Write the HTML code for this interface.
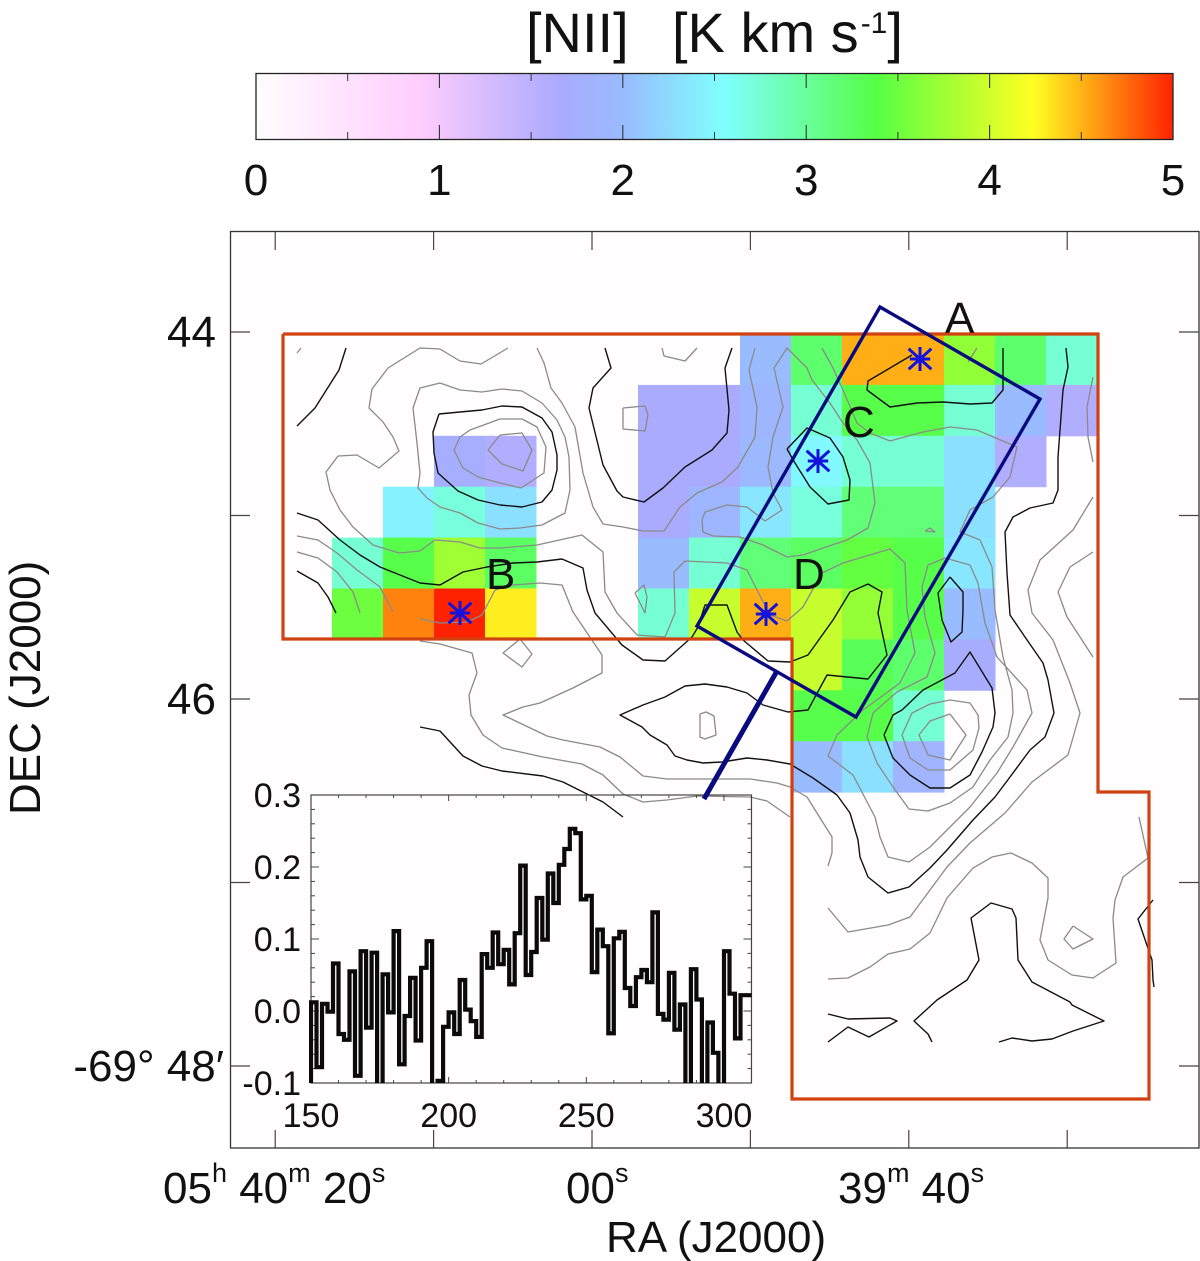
<!DOCTYPE html>
<html lang="en">
<head>
<meta charset="utf-8">
<title>[NII] integrated intensity map</title>
<style>
html,body{margin:0;padding:0;background:#fff;}
svg{display:block;font-family:"Liberation Sans",sans-serif;fill:#111;}
</style>
</head>
<body>
<svg id="chart" xmlns="http://www.w3.org/2000/svg" width="1200" height="1261" viewBox="0 0 1200 1261">
  <defs>
    <linearGradient id="cbar-gradient" x1="0" x2="1" y1="0" y2="0"></linearGradient>
    <clipPath id="inset-clip"><rect x="309" y="795" width="442.5" height="288"></rect></clipPath>
  </defs>
  <rect x="231" y="232" width="968" height="916" fill="#fffdfd"></rect>
  <g id="heatmap"></g>
  <g id="inset-bg"></g>
  <g id="contours" fill="none" stroke-linejoin="round"></g>
  <g id="frame"></g>
  <polyline points="283,334 1098,334 1098,792 1149,792 1149,1099 792,1099 792,639 283,639 283,334" fill="none" stroke="#d0420f" stroke-width="3.2"></polyline>
  <g id="inset"></g>
  <polygon points="880,307 1040,399 856,717 697,626" fill="none" stroke="#0a0a80" stroke-width="3.4"></polygon>
  <line x1="777" y1="671" x2="704" y2="799" stroke="#0a0a80" stroke-width="5"></line>
  <g id="markers"></g>
  <g font-size="44">
    <text x="945" y="333">A</text>
    <text x="486" y="589">B</text>
    <text x="843" y="437">C</text>
    <text x="793" y="589">D</text>
  </g>
  <g id="colorbar"></g>
  <g font-size="56">
    <text x="526" y="52">[NII]</text>
    <text x="672" y="52">[K km s<tspan font-size="30" dy="-19" dx="2">-1</tspan><tspan dy="19">]</tspan></text>
  </g>
  <g font-size="44">
    <text x="163" y="1203">05<tspan font-size="27" dy="-21">h</tspan><tspan dy="21"> 40</tspan><tspan font-size="27" dy="-21">m</tspan><tspan dy="21"> 20</tspan><tspan font-size="27" dy="-21">s</tspan></text>
    <text x="566" y="1203">00<tspan font-size="27" dy="-21">s</tspan></text>
    <text x="838" y="1203">39<tspan font-size="27" dy="-21">m</tspan><tspan dy="21"> 40</tspan><tspan font-size="27" dy="-21">s</tspan></text>
    <text x="216" y="347" text-anchor="end">44</text>
    <text x="216" y="714" text-anchor="end">46</text>
    <text x="224" y="1081" text-anchor="end">-69° 48′</text>
    <text x="606" y="1252">RA (J2000)</text>
    <text transform="translate(40,815) rotate(-90)">DEC (J2000)</text>
  </g>
</svg>
<script>
// ---- Heatmap values [K km/s], null = not observed (rows top to bottom, 15 columns)
const heatRow0 = [null,null,null,null,null,null,null,null,2.0,3.2,4.52,4.52,3.68,3.2,2.75];
const heatRow1 = [null,null,null,null,null,null,1.66,1.66,1.9,2.75,3.35,3.35,2.75,2.0,1.6];
const heatRow2 = [null,null,1.75,1.6,null,null,1.66,1.66,1.95,2.5,2.75,2.75,2.3,1.6,null];
const heatRow3 = [null,2.45,2.7,2.3,null,null,1.66,1.9,2.35,2.7,3.15,3.15,2.3,null,null];
const heatRow4 = [2.75,3.35,3.75,3.25,null,null,2.0,2.75,3.15,3.25,3.45,3.35,2.35,null,null];
const heatRow5 = [3.5,4.67,5.0,4.3,null,null,2.75,3.95,4.52,3.95,3.7,3.35,2.0,null,null];
const heatRow6 = [null,null,null,null,null,null,null,null,null,3.95,3.3,3.2,1.7,null,null];
const heatRow7 = [null,null,null,null,null,null,null,null,null,3.35,3.35,2.75,null,null,null];
const heatRow8 = [null,null,null,null,null,null,null,null,null,2.0,2.3,1.85,null,null,null];
const heatRows = [heatRow0,heatRow1,heatRow2,heatRow3,heatRow4,heatRow5,heatRow6,heatRow7,heatRow8];

// ---- Colour table
const cmapValues = [0,0.9,1.66,2.0,2.55,3.38,4.24,5.0];
const cmapColors = [[255,253,253],[255,204,255],[170,170,255],[153,187,255],[128,255,255],[85,255,68],[255,255,34],[255,34,0]];
const cbarTicks = [0,1,2,3,4,5];
const cbarMinorTicks = [0.5,1.5,2.5,3.5,4.5];

// ---- Spectrum (velocity bin start, 2 km/s bins; brightness)
const specStart = 150;
const specStep = 2;
const specValues = [0.012,-0.078,0.010,-0.001,0.066,-0.032,-0.040,0.055,-0.090,0.083,-0.023,0.081,-0.12,0.051,-0.002,0.111,-0.074,-0.007,0.046,-0.041,0.060,0.097,-0.13,-0.097,-0.022,-0.002,-0.032,0.043,0.002,-0.014,-0.036,0.079,0.060,0.109,0.065,0.085,0.037,0.108,0.202,0.050,0.082,0.157,0.099,0.191,0.150,0.203,0.225,0.253,0.247,0.155,0.160,0.054,0.113,0.090,-0.031,0.101,0.110,0.032,0.007,0.047,0.057,0.040,0.137,-0.004,-0.012,0.053,-0.026,0.009,-0.13,0.058,0.016,-0.13,-0.016,-0.058,-0.13,0.083,0.024,-0.038,0.022,0.022];
const insetXTicks = [150,200,250,300];
const insetYTicks = [0.3,0.2,0.1,0.0,-0.1];
const insetXTickLabels = ["150","200","250","300"];
const insetYTickLabels = ["0.3","0.2","0.1","0.0","-0.1"];

// ---- Map axes (RA seconds relative to 05h40m; DEC arcmin south of -69 deg)
const raTicks = [20,10,0,-10,-20,-30];
const decTicks = [44,45,46,47,48];

// ---- Source positions in map offset units
const markerU = [720,618,260,566];
const markerV = [59,161,313,314];

// ---- Contours in map offset units, flat u,v lists
const contoursBlack = [
 [146,48,139,70,115,108,97,126],
 [97,271,118,283,128,297,136,313],
 [239,114,260,112,282,110,302,106,322,107,342,118,352,132,357,155,357,170,352,190,342,202,322,207,300,205,278,200,258,191,238,173,234,153,233,132,239,114],
 [405,48,411,68,393,88,389,108,403,165,417,191,423,197,444,202,463,188,485,167,512,150,527,133,529,110,525,68,532,48],
 [97,213,118,220,140,240,160,255,180,267,200,275,220,283,240,285,263,272,287,267,313,263,337,262,362,259,383,268,387,290,395,313,422,345,443,360,465,361,492,337,498,327,505,305,527,305,537,332,543,340,568,361,590,362,608,355,633,320,650,292,668,284,682,292,678,313,687,355,668,379,627,375,608,410,588,412,563,405,547,393,527,387,505,384,485,386,465,397,443,405,420,415,442,427,450,435,467,445,475,456,487,460,503,463,522,462,547,458,567,460,590,464,613,478,637,495,650,513,658,540,660,557,668,577,688,593,709,587,730,568,747,550,773,520,795,497,810,477,830,450,845,437,854,413,848,380,843,363,825,337,810,315,807,273,805,232,813,217,830,208,853,203,858,190,858,157,863,90,868,67,866,48],
 [220,427,240,431,263,456,282,466,302,471,343,476,363,482,385,493,403,502,423,517],
 [684,435,693,458,710,475,730,488,750,488,770,475,782,452,793,427,795,413,792,388,770,352,755,373,723,390,702,410,693,415,684,435],
 [587,149,607,128,630,138,643,157,650,180,649,200,628,204,610,187,595,163,587,149],
 [712,55,690,68,668,81,667,90,690,107,717,103,743,102,770,104,792,103,803,90,803,48],
 [750,277,763,292,763,310,762,332,751,342,742,320,738,293,750,277],
 [732,742,728,734,714,721,737,700,767,680,779,660,771,618,791,603,812,609,816,618,818,660,832,682,870,702,872,705,904,721,873,731,852,739,832,741,812,738,799,742],
 [628,714,648,719,690,718,697,721,669,737,648,727,628,742],
 [953,600,938,619,952,660,953,680,954,687]
];
const contoursGray = [
 [97,53,101,48],
 [308,48,281,64,260,61,240,49,220,48,188,68,172,89,169,108,183,122,193,137,199,151,179,168,157,155,138,156,126,172,130,190,140,210,153,227,173,245,199,253,220,251,235,240,260,242,280,248,300,248,337,245,382,235,403,252,405,292,417,313,437,335,465,337,475,313,474,272,485,261,527,263,547,270,558,292,570,315,587,321,603,307,622,273,643,263,690,249,705,263,707,310,715,353,700,383,663,410,637,435,628,456,653,475,675,517,680,537,688,557,709,562,730,547,770,507,797,473,813,447,832,413,827,390,797,357,785,323,778,283,770,265,745,258,728,265,722,287,725,317,735,353,727,377,697,392,673,413,667,437,677,463,693,487,709,509,728,511,750,503,773,487,790,460,808,437,813,413,812,390,803,357,795,310,792,267,780,240,760,232,770,210,793,197,810,177,817,147,777,130,750,127,723,132,690,141,670,133,657,123,643,90,633,68,622,48],
 [240,83,260,90,282,92,302,89,322,91,342,103,357,120,365,137,369,157,370,190,365,213,342,225,320,228,300,229,278,223,260,213,240,207,227,198,218,188,220,173,217,143,213,108,220,88,240,83],
 [270,130,300,119,322,119,337,127,346,147,344,173,321,188,300,183,278,177,263,168,254,150,260,137,270,130],
 [300,135,322,133,332,150,323,171,302,164,288,150,300,135],
 [423,108,445,106,448,115,445,131,423,129,423,108],
 [462,48,464,56,485,61,497,48],
 [337,48,344,63,351,88,362,103,375,127,383,173,393,207,403,224,423,227,443,231,464,231,480,207,497,193,522,182,538,167,555,137,557,107,549,70,555,48],
 [97,236,118,240,137,253,157,270,180,287,193,312],
 [97,252,118,258,137,272,153,292,160,313],
 [220,319,240,323,267,322,282,315,295,290,313,285,340,283,362,285,373,312,402,355,402,373,373,388,340,403,323,407,303,415,347,436,363,440,400,447,420,457,443,476,467,479,503,479,550,479,577,483,590,487,607,497,632,537,632,553,628,566],
 [220,341,240,344,272,353,277,373,269,395,271,415,283,435,302,448,343,457,382,464,403,475,423,494,443,502,467,500,497,496,550,497,567,501,590,517],
 [320,339,332,354,322,367,303,353,320,339],
 [435,293,444,285,447,297,445,313,435,293],
 [500,414,506,412,514,416,516,435,505,439,500,437,500,414],
 [502,220,505,212,527,205,547,207,565,221,582,210,573,193,568,167,573,137,583,107,574,68,587,48,607,68,612,80,630,103,643,123,657,140,670,163,675,203,668,228,647,240,623,248,603,255,587,257,563,245,540,237,513,236,503,232,502,220],
 [725,231,730,228,735,232,725,231],
 [777,48,768,62],
 [893,77,887,107,888,137,893,162],
 [893,197,873,230,840,260,828,290,832,313,853,340,870,383,880,413,868,455,832,482,805,513,770,543,747,567,710,617,688,625,648,632,628,608],
 [893,252,870,267,858,292,867,317,893,357],
 [628,679,648,678,670,667,688,654,710,649,730,633,747,598,773,568,792,557,811,553,832,563,848,578,848,598,840,640,848,660,872,675,893,678,916,663,913,618,915,600,923,577,948,558],
 [939,517,948,558],
 [873,626,893,639,873,649,864,639,873,626],
 [750,414,766,435,750,460,728,455,719,435,730,421,750,414],
 [750,400,770,403,778,415,779,428,773,450,750,470,728,470,710,458,702,435,712,413,730,404,750,400]
];

// ---- Axis functions
const SVGNS = "http://www.w3.org/2000/svg";
function mk(parent, tag, attrs, text) {
  const el = document.createElementNS(SVGNS, tag);
  for (const k in attrs) el.setAttribute(k, attrs[k]);
  if (text !== undefined) el.textContent = text;
  parent.appendChild(el);
  return el;
}
function mapX(u) { return 200 + u; }
function mapY(v) { return 300 + v; }
function raX(sec) { return 592 - sec * 15.84; }
function decY(arcmin) { return 332 + (arcmin - 44) * 183.5; }
function cellX(c) { return 332 + c * 51; }
function cellY(r) { return 334 + r * 50.9; }
function cbarX(val) { return 256 + val * 183.4; }
function insetX(vel) { return 311 + (vel - 150) * 2.753; }
function insetY(t) { return 1011 - t * 720; }
function cmap(val) {
  let i = 0;
  while (i < cmapValues.length - 2 && val > cmapValues[i + 1]) i++;
  const t = Math.min(1, Math.max(0, (val - cmapValues[i]) / (cmapValues[i + 1] - cmapValues[i])));
  const a = cmapColors[i], b = cmapColors[i + 1];
  return "rgb(" + [0,1,2].map(function (k) { return Math.round(a[k] + (b[k] - a[k]) * t); }).join(",") + ")";
}

// ---- Heatmap
const heatGroup = document.getElementById("heatmap");
heatRows.forEach(function (row, r) {
  row.forEach(function (val, c) {
    if (val === null) return;
    const cell = mk(heatGroup, "rect", {x: cellX(c), y: cellY(r), width: 51.5, height: 51.4, fill: cmap(val)});
    
    
  });
});

// ---- Inset background
const insetBg = mk(document.getElementById("inset-bg"), "rect", {x: insetX(150), y: insetY(0.3), width: insetX(310) - insetX(150), height: insetY(-0.1) - insetY(0.3), fill: "#fffdfd"});



// ---- Contours
const contourGroup = document.getElementById("contours");
function contourPoints(list) {
  const pts = [];
  for (let i = 0; i < list.length; i += 2) pts.push(mapX(list[i]).toFixed(1) + "," + mapY(list[i + 1]).toFixed(1));
  return pts.join(" ");
}
contoursGray.forEach(function (list) {
  const line = mk(contourGroup, "polyline", {points: contourPoints(list), stroke: "#8a8a8a", "stroke-width": 1.3});
  
  
});
contoursBlack.forEach(function (list) {
  const line = mk(contourGroup, "polyline", {points: contourPoints(list), stroke: "#111", "stroke-width": 1.4});
  
  
});

// ---- Map frame and ticks
const frameGroup = document.getElementById("frame");
const frameRect = mk(frameGroup, "rect", {x: 230.5, y: 231.5, width: 968.5, height: 916.5, fill: "none", stroke: "#333", "stroke-width": 1.3});


raTicks.forEach(function (sec) {
  const x = raX(sec);
  const top = mk(frameGroup, "line", {x1: x, x2: x, y1: 232, y2: 250, stroke: "#444", "stroke-width": 1.2});
  
  
  const bottom = mk(frameGroup, "line", {x1: x, x2: x, y1: 1130, y2: 1148, stroke: "#444", "stroke-width": 1.2});
  
  
});
decTicks.forEach(function (m) {
  const y = decY(m);
  const left = mk(frameGroup, "line", {x1: 231, x2: 250, y1: y, y2: y, stroke: "#444", "stroke-width": 1.2});
  
  
  const right = mk(frameGroup, "line", {x1: 1179, x2: 1199, y1: y, y2: y, stroke: "#444", "stroke-width": 1.2});
  
  
});

// ---- Inset
const insetGroup = document.getElementById("inset");
const insetBox = mk(insetGroup, "rect", {x: insetX(150), y: insetY(0.3), width: insetX(310) - insetX(150), height: insetY(-0.1) - insetY(0.3), fill: "none", stroke: "#444", "stroke-width": 1.2});


for (let vel = 150; vel <= 310; vel += 10) {
  const len = vel % 50 === 0 ? 6 : 3;
  const t1 = mk(insetGroup, "line", {x1: insetX(vel), x2: insetX(vel), y1: insetY(0.3), y2: insetY(0.3) + len, stroke: "#444", "stroke-width": 1});
  
  
  const t2 = mk(insetGroup, "line", {x1: insetX(vel), x2: insetX(vel), y1: insetY(-0.1), y2: insetY(-0.1) - len, stroke: "#444", "stroke-width": 1});
  
  
}
for (let k = 0; k <= 20; k++) {
  const tv = -0.1 + k * 0.02;
  const len = k % 5 === 0 ? 8 : 4;
  const t1 = mk(insetGroup, "line", {x1: insetX(150), x2: insetX(150) + len, y1: insetY(tv), y2: insetY(tv), stroke: "#444", "stroke-width": 1});
  
  
  const t2 = mk(insetGroup, "line", {x1: insetX(310), x2: insetX(310) - len, y1: insetY(tv), y2: insetY(tv), stroke: "#444", "stroke-width": 1});
  
  
}
insetXTicks.forEach(function (vel, i) {
  const lab = mk(insetGroup, "text", {x: insetX(vel), y: 1127, "font-size": 34, "text-anchor": "middle"}, insetXTickLabels[i]);
  
  
});
insetYTicks.forEach(function (tv, i) {
  const lab = mk(insetGroup, "text", {x: 301, y: insetY(tv) + 12, "font-size": 34, "text-anchor": "end"}, insetYTickLabels[i]);
  
  
});
let specPts = [insetX(specStart).toFixed(1) + "," + insetY(Math.min.apply(null, specValues)).toFixed(1)];
specValues.forEach(function (val, i) {
  const v0 = specStart + i * specStep;
  specPts.push(insetX(v0).toFixed(1) + "," + insetY(val).toFixed(1));
  specPts.push(insetX(v0 + specStep).toFixed(1) + "," + insetY(val).toFixed(1));
});
const specLine = mk(insetGroup, "polyline", {points: specPts.join(" "), fill: "none", stroke: "#0a0a0a", "stroke-width": 4.2, "stroke-linejoin": "miter", "clip-path": "url(#inset-clip)"});



// ---- Markers (asterisks)
const markerGroup = document.getElementById("markers");
markerU.forEach(function (u, i) {
  const cx = mapX(u), cy = mapY(markerV[i]), r = 12;
  let d = "";
  [[0,1],[0.95,0.85],[0.95,-0.85],[0.85,0]].forEach(function (dir) {
    d += "M" + (cx - dir[0] * r) + " " + (cy - dir[1] * r) + "L" + (cx + dir[0] * r) + " " + (cy + dir[1] * r);
  });
  const star = mk(markerGroup, "path", {d: d, fill: "none", stroke: "#1212dc", "stroke-width": 3});
  
  
});

// ---- Colorbar
const gradient = document.getElementById("cbar-gradient");
cmapValues.forEach(function (val) {
  mk(gradient, "stop", {offset: (val / 5 * 100) + "%", "stop-color": cmap(val)});
});
const cbarGroup = document.getElementById("colorbar");
const cbarRect = mk(cbarGroup, "rect", {x: cbarX(0), y: 73.5, width: cbarX(5) - cbarX(0), height: 66, fill: "url(#cbar-gradient)", stroke: "#222", "stroke-width": 1.3});


cbarTicks.forEach(function (val) {
  const x = cbarX(val);
  const t1 = mk(cbarGroup, "line", {x1: x, x2: x, y1: 74, y2: 88, stroke: "#333", "stroke-width": 1.1});
  
  
  const t2 = mk(cbarGroup, "line", {x1: x, x2: x, y1: 125, y2: 139, stroke: "#333", "stroke-width": 1.1});
  
  
  const lab = mk(cbarGroup, "text", {x: x, y: 195, "font-size": 44, "text-anchor": "middle"}, String(val));
  
  
});
cbarMinorTicks.forEach(function (val) {
  const x = cbarX(val);
  const t1 = mk(cbarGroup, "line", {x1: x, x2: x, y1: 74, y2: 81, stroke: "#333", "stroke-width": 1});
  
  
  const t2 = mk(cbarGroup, "line", {x1: x, x2: x, y1: 132, y2: 139, stroke: "#333", "stroke-width": 1});
  
  
});
</script>
</body>
</html>
